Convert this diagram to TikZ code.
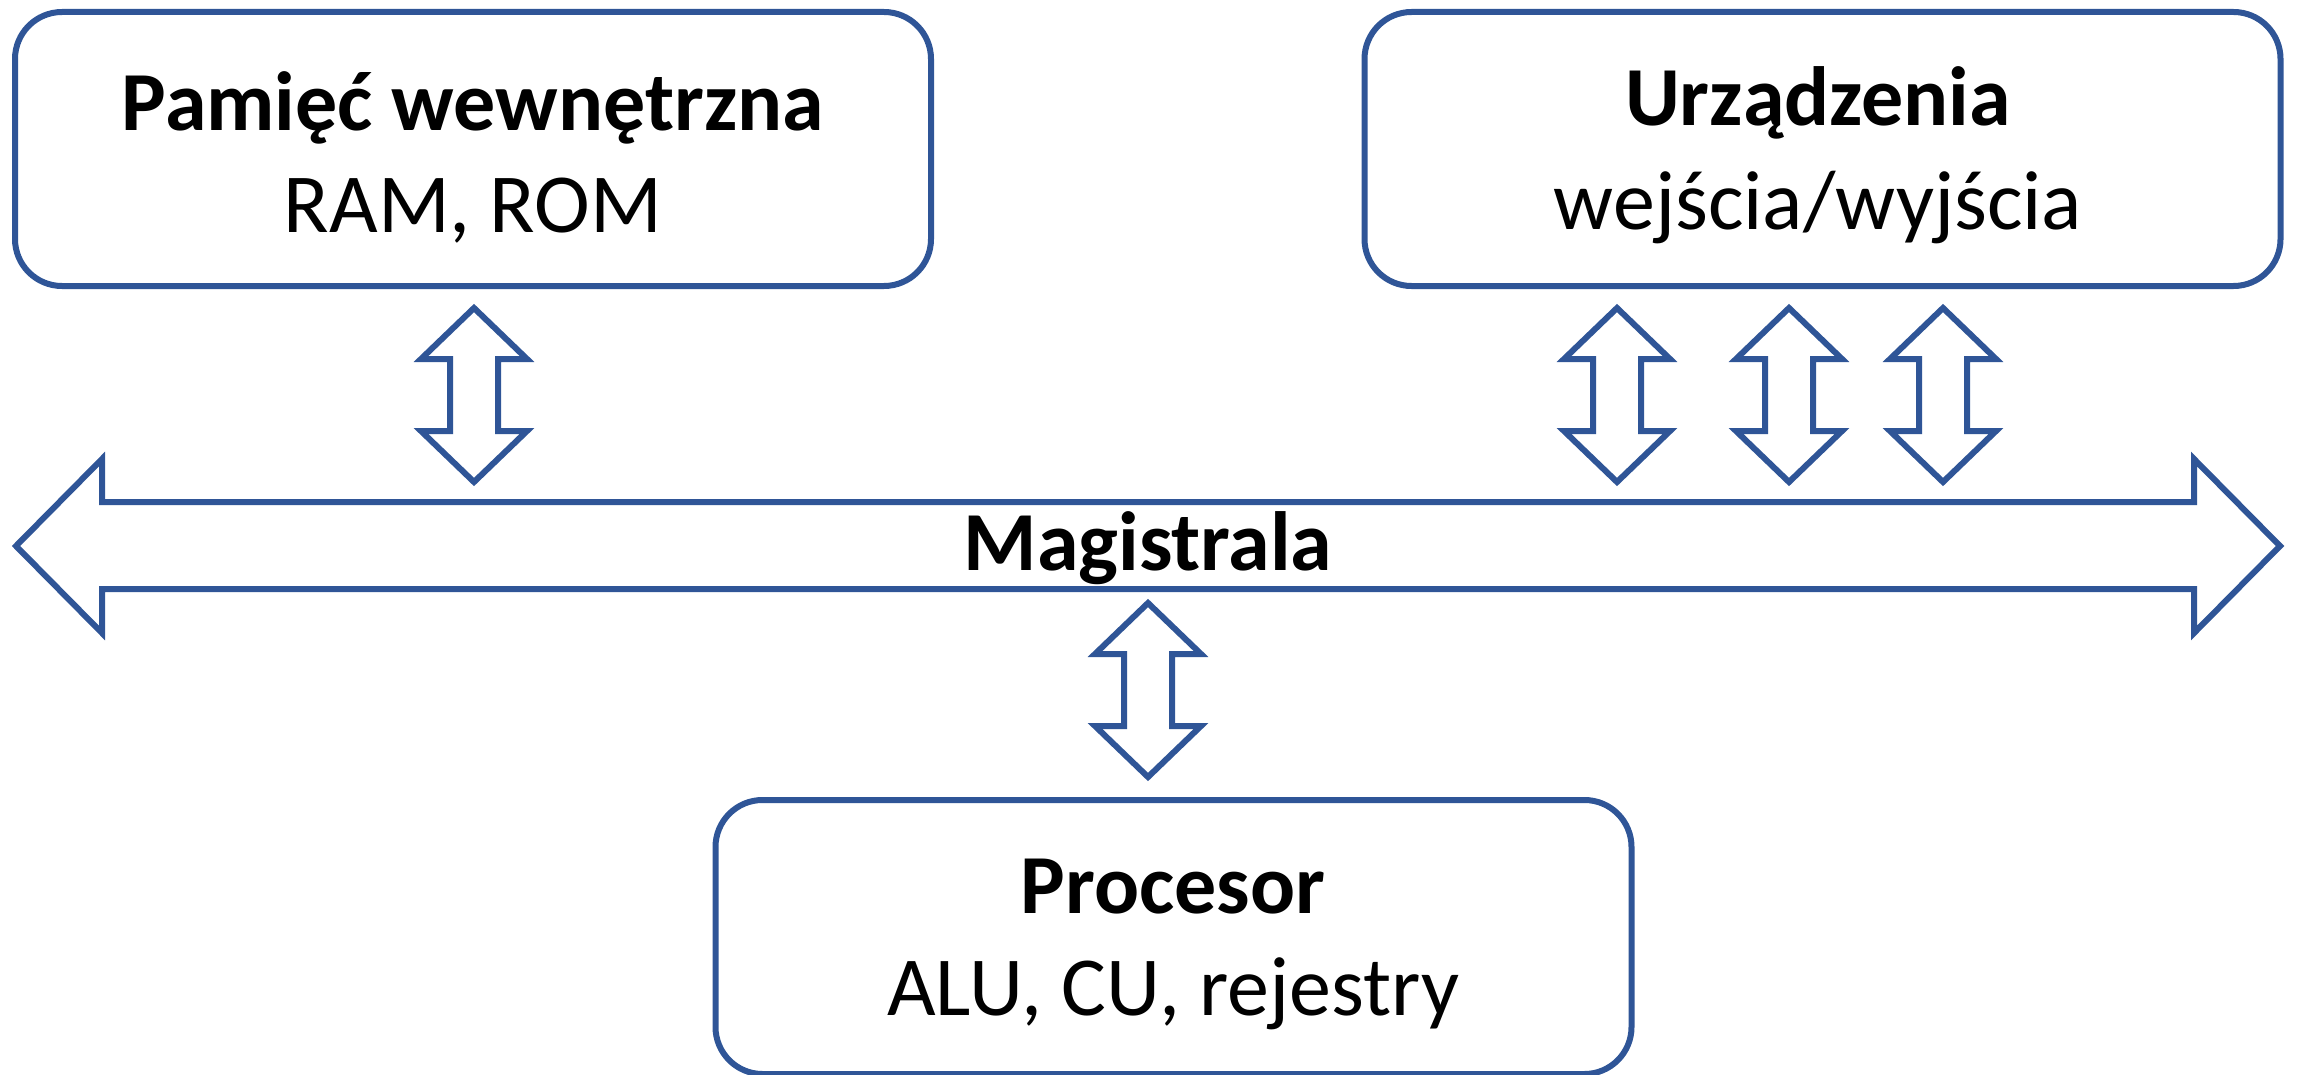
\documentclass[tikz,border=0pt]{standalone}
\usepackage{fontspec}
\setmainfont{Carlito}
\definecolor{busblue}{HTML}{2F5597}
\tikzset{
  unitbox/.style={draw=busblue, line width=3pt, rounded corners=23.5pt, fill=white,
    minimum width=458pt, minimum height=137pt, inner sep=0pt},
  heading/.style={font=\fontsize{42}{51}\selectfont\bfseries, anchor=base, inner sep=0pt},
  detail/.style={font=\fontsize{42}{51}\selectfont, anchor=base, inner sep=0pt},
  blockarrow/.style={draw=busblue, line width=3pt, fill=white, line join=miter, miter limit=10},
  updown/.pic={
    \path[blockarrow] (0,-87) -- (53,-36) -- (24,-36) -- (24,36) -- (53,36) -- (0,87)
      -- (-53,36) -- (-24,36) -- (-24,-36) -- (-53,-36) -- cycle;
  }
}
\begin{document}
\begin{tikzpicture}[x=0.5pt, y=-0.5pt]
  \useasboundingbox (0,0) rectangle (2300,1075);

  % component boxes
  \node[unitbox] (mem) at (473,149) {};
  \node[unitbox] (io)  at (1822.5,149) {};
  \node[unitbox] (cpu) at (1173.5,937) {};

  \node[heading] (memTitle) at (473,131) {Pamięć wewnętrzna};
  \node[detail]  (memSub)   at (473,233) {RAM, ROM};
  \node[heading] (ioTitle)  at (1818,126) {Urządzenia};
  \node[detail]  (ioSub)    at (1818,229) {wejścia/wyjścia};
  \node[heading] (cpuTitle) at (1173,913) {Procesor};
  \node[detail]  (cpuSub)   at (1173,1015) {ALU, CU, rejestry};

  % system bus
  \path[blockarrow] (16,546) -- (102,459) -- (102,502) -- (2194,502) -- (2194,459)
    -- (2280,546) -- (2194,633) -- (2194,589) -- (102,589) -- (102,633) -- cycle;
  \node[heading] (busLabel) at (1148,570) {Magistrala};

  % links between the components and the bus
  \coordinate (memLink)  at (474,395);
  \coordinate (ioLinkA)  at (1617,395);
  \coordinate (ioLinkB)  at (1789,395);
  \coordinate (ioLinkC)  at (1943,395);
  \coordinate (cpuLink)  at (1148,690);
  \foreach \c in {memLink,ioLinkA,ioLinkB,ioLinkC,cpuLink}
    \pic at (\c) {updown};
\end{tikzpicture}
\end{document}
